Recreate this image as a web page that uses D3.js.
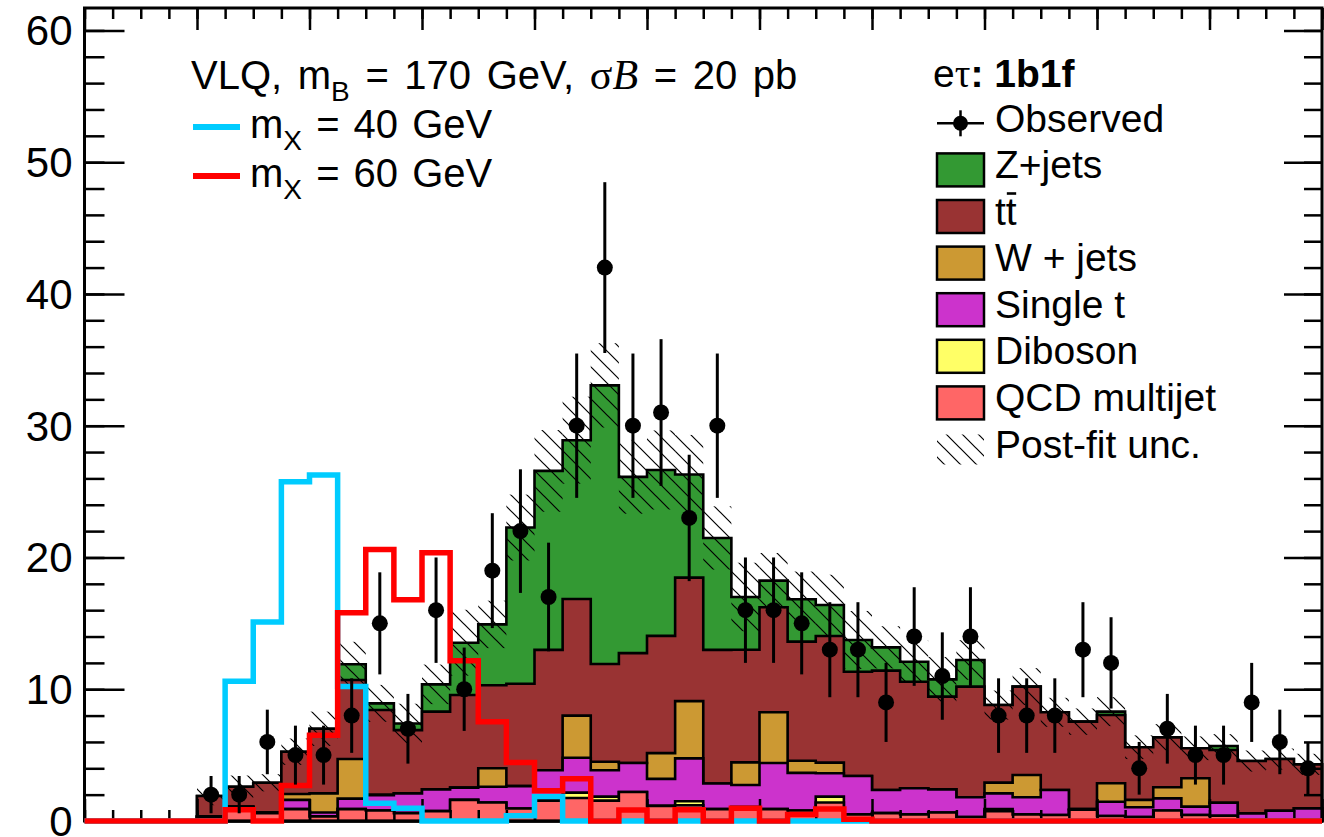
<!DOCTYPE html>
<html lang="en">
<head>
<meta charset="UTF-8">
<title>VLQ e-tau 1b1f</title>
<script src="https://d3js.org/d3.v7.min.js"></script>
<style>
  body { margin: 0; background: #fff; }
  svg text { font-family: "Liberation Sans", Arial, Helvetica, sans-serif; fill: #000; }
</style>
</head>
<body>
<svg id="main" width="1324" height="837"></svg>
<script>
// 44 bins of 5 GeV, 0..220
const observed  = [0,0,0,0, 2,2,6,5,5,8,15,7,16,10,19,22,17,30,42,30,31,23,30,16,16,15,13,13,9,14,11,14,8,8,8,13,12,4,7,5,5,9,6,4]
const qcd       = [0,0,0,0, 0.3,1.05,0.6,0.9,0.35,0.9,0.8,0.6,0.75,1.6,1.4,0.95,1.55,1.75,1.55,2.2,1.15,1.2,0.9,1.05,0.9,0.8,1.4,0.5,0.6,0.5,0.65,0.3,0.75,0.5,0.45,0.85,0.38,0.3,0.8,0.45,0.4,0.1,0.1,0.1]
const diboson   = [0,0,0,0, 0,0,0,0,0,0,0,0,0,0,0,0,0,0.4,0.3,0,0,0.3,0,0,0,0,0.45,0,0,0,0,0,0.15,0,0,0,0,0,0,0,0,0,0,0]
const singleTop = [0,0,0,0, 0.05,0.05,0.05,0.7,0.3,0.8,1.15,1.5,1.65,0.93,1.2,1.7,2.3,2.65,2.0,2.2,2.05,3.25,1.95,1.68,3.5,2.85,1.77,2.92,1.75,1.98,1.75,1.5,1.2,1.3,1.9,0.05,1.08,0.74,0.92,0.64,0.99,0.48,0.68,0.86]
const wjets     = [0,0,0,0, 0,0,0,0.45,1.45,3.0,0.05,0,0,0,1.4,0,0,3.2,0.65,0,1.95,4.35,0,1.72,3.85,0.92,0.81,0,0,0,0,0,0.81,1.69,0,0,1.4,0.56,0.84,2.15,0,0,0,0]
const ttbar     = [0,0,0,0, 1.55,1.5,2.25,3.21,4.9,6.0,6.42,4.8,5.9,7.03,6.3,7.77,9.14,8.85,7.42,8.34,8.9,9.37,10.14,8.55,7.97,9.04,9.61,7.91,9.06,8.09,7.04,8.4,5.89,6.71,5.9,6.64,5.19,4.0,3.79,2.28,4.0,3.97,3.92,3.34]
const zjets     = [0,0,0,0, 0,0,0,0,0,1.2,0.51,0.5,2.07,3.97,4.62,11.85,13.58,12.05,21.14,13.38,12.59,7.83,8.49,4.0,2.02,3.22,2.35,2.41,1.77,1.52,1.31,2.02,0,0,0,0,0.25,0,0,0,0.3,0,0,0]
const postFitUnc = [0,0,0,0, 0.7,0.85,0.65,1.0,1.3,1.7,1.4,1.5,1.5,2.5,1.8,2.5,3.1,3.3,3.2,2.8,3.0,3.0,2.4,2.6,2.1,2.1,2.3,2.2,1.6,1.6,1.7,1.5,1.1,1.4,1.1,1.0,1.1,0.9,1.0,0.9,0.9,0.8,0.8,0.8]
const sigMX40   = [0,0,0,0, 0,10.6,15.1,25.75,26.26,10.2,1.34,0.96,0,0,0,0.4,1.85,0,0,0,0,0,0,0,0,0,0,0,0,0,0,0,0,0,0,0,0,0,0,0,0,0,0,0]
const sigMX60   = [0,0,0,0, 0,0.85,0,2.7,6.5,15.8,20.6,16.8,20.35,12.16,7.53,4.44,2.3,3.2,0,0.83,0,0.86,0,0.96,0,0.5,0.92,0.14,0,0,0,0,0,0,0,0,0,0,0,0,0,0,0,0]

const bgNames  = ['QCD multijet','Diboson','Single t','W + jets','tt','Z+jets']
const bgColors = ['#ff6666','#ffff66','#cc33cc','#cc9933','#993333','#339933']
const yMajor = [0,10,20,30,40,50,60]

const binW = 5
const binLow = d3.range(0, 220, binW)
const svg = d3.select('#main')
const x = d3.scaleLinear().domain([0, 220]).range([84.5, 1322])
const y = d3.scaleLinear().domain([0, 61.7]).range([821, 8])

const defs = svg.append('defs')
const hatch = defs.append('pattern').attr('id','hatch')
    .attr('patternUnits','userSpaceOnUse').attr('width',16).attr('height',16)
hatch.append('path').attr('d','M-4,-4L20,20M-4,12L4,20M12,-4L20,4')
    .attr('stroke','#000').attr('stroke-width',1.2)

function histPath(vals, close) {
    const p = d3.path()
    p.moveTo(x(0), y(0))
    vals.forEach((v, i) => {
        p.lineTo(x(binLow[i]), y(v))
        p.lineTo(x(binLow[i] + binW), y(v))
    })
    p.lineTo(x(220), y(0))
    if (close) p.closePath()
    return p.toString()
}

// stacked backgrounds
const layers = [qcd, diboson, singleTop, wjets, ttbar, zjets]
let run = binLow.map(() => 0)
const cum = layers.map(l => (run = run.map((v, i) => v + l[i])))
const total = cum[cum.length - 1]

const gStack = svg.append('g')
for (let k = cum.length - 1; k >= 0; k--) {
    gStack.append('path').attr('d', histPath(cum[k], true))
        .attr('fill', bgColors[k]).attr('stroke', '#000').attr('stroke-width', 2.6)
        .attr('stroke-linejoin', 'miter')
}

// post-fit band
svg.append('g').selectAll('rect')
    .data(binLow.map((b, i) => ({b, t: total[i], u: postFitUnc[i]})).filter(d => d.u > 0))
    .join('rect')
    .attr('x', d => x(d.b)).attr('width', x(binW) - x(0))
    .attr('y', d => y(d.t + d.u)).attr('height', d => y(Math.max(d.t - d.u, 0)) - y(d.t + d.u))
    .attr('fill', 'url(#hatch)')

// axes ticks
function ticks(axis, vals, size) {
    return axis.tickValues(vals).tickSize(-size).tickFormat('')
}
const xMinor = d3.range(0, 221, 5), xMaj = d3.range(0, 221, 20)
const yMinor = d3.range(0, 61, 2)
const axG = svg.append('g')
axG.append('g').attr('transform','translate(0,8)').call(ticks(d3.axisTop(x), xMinor, 11))
axG.append('g').attr('transform','translate(0,8)').call(ticks(d3.axisTop(x), xMaj, 22))
axG.append('g').attr('transform','translate(0,821)').call(ticks(d3.axisBottom(x), xMinor, 11))
axG.append('g').attr('transform','translate(0,821)').call(ticks(d3.axisBottom(x), xMaj, 22))
axG.append('g').attr('transform','translate(1322,0)').call(ticks(d3.axisRight(y), yMinor, 18))
axG.append('g').attr('transform','translate(1322,0)').call(ticks(d3.axisRight(y), yMajor, 38))
axG.append('g').attr('transform','translate(84.5,0)').call(ticks(d3.axisLeft(y), yMinor, 20))
axG.append('g').attr('transform','translate(84.5,0)')
    .call(d3.axisLeft(y).tickValues(yMajor).tickSize(-40).tickPadding(12))
axG.selectAll('.domain').remove()
axG.selectAll('.tick line').attr('stroke','#000').attr('stroke-width',2.5)
axG.selectAll('.tick text').attr('font-size', 42).attr('dy', 14.5)
    .attr('font-family','"Liberation Sans", Arial, sans-serif')

svg.append('rect').attr('x',84.5).attr('y',8).attr('width',1322-84.5).attr('height',813)
    .attr('fill','none').attr('stroke','#000').attr('stroke-width',3)

// signals
svg.append('path').attr('d', histPath(sigMX40, false))
    .attr('fill','none').attr('stroke','#00ccff').attr('stroke-width',5.5)
svg.append('path').attr('d', histPath(sigMX60, false))
    .attr('fill','none').attr('stroke','#ff0000').attr('stroke-width',5.5)

// observed
const obs = binLow.map((b, i) => ({xc: b + binW / 2, n: observed[i]})).filter(d => d.n > 0)
const gObs = svg.append('g')
gObs.selectAll('line').data(obs).join('line')
    .attr('x1', d => x(d.xc)).attr('x2', d => x(d.xc))
    .attr('y1', d => y(d.n - Math.sqrt(d.n))).attr('y2', d => y(d.n + Math.sqrt(d.n)))
    .attr('stroke','#000').attr('stroke-width',3)
gObs.selectAll('circle').data(obs).join('circle')
    .attr('cx', d => x(d.xc)).attr('cy', d => y(d.n)).attr('r', 8).attr('fill','#000')

// left legend
const t1 = svg.append('text').attr('x',191).attr('y',89).attr('font-size',40).attr('word-spacing',4.5)
t1.append('tspan').text('VLQ, m')
t1.append('tspan').attr('font-size',28).attr('dy',12).text('B')
t1.append('tspan').attr('dy',-12).text(' = 170 GeV, ')
t1.append('tspan').attr('font-family','"Liberation Serif", serif').attr('font-size',42).text('σ')
t1.append('tspan').attr('font-family','"Liberation Serif", serif').attr('font-size',42).attr('font-style','italic').text('B')
t1.append('tspan').text(' = 20 pb')

const sigLeg = [{c:'#00ccff', m:'40', yy:127}, {c:'#ff0000', m:'60', yy:176}]
sigLeg.forEach(s => {
    svg.append('line').attr('x1',193).attr('x2',240).attr('y1',s.yy).attr('y2',s.yy)
        .attr('stroke',s.c).attr('stroke-width',6)
    const t = svg.append('text').attr('x',250).attr('y',s.yy + 11).attr('font-size',40).attr('word-spacing',3)
    t.append('tspan').text('m')
    t.append('tspan').attr('font-size',28).attr('dy',12).text('X')
    t.append('tspan').attr('dy',-12).text(' = ' + s.m + ' GeV')
})

// right legend
const hdr = svg.append('text').attr('x',933).attr('y',87).attr('font-size',39)
hdr.append('tspan').text('e')
hdr.append('tspan').attr('font-family','"Liberation Serif", serif').text('τ')
hdr.append('tspan').attr('font-weight','bold').text(': 1b1f')

const lx = 937, lw = 47, tx = 995, row0 = 123.3, dRow = 46.6
// observed entry
svg.append('line').attr('x1',lx).attr('x2',lx+lw).attr('y1',row0).attr('y2',row0)
    .attr('stroke','#000').attr('stroke-width',2.5)
svg.append('line').attr('x1',lx+lw/2).attr('x2',lx+lw/2).attr('y1',row0-13).attr('y2',row0+13)
    .attr('stroke','#000').attr('stroke-width',2.5)
svg.append('circle').attr('cx',lx+lw/2).attr('cy',row0).attr('r',7.5).attr('fill','#000')
svg.append('text').attr('x',tx).attr('y',row0+8.4).attr('font-size',39).text('Observed')

const order = [5,4,3,2,1,0]
order.forEach((k, j) => {
    const cy = row0 + dRow * (j + 1)
    svg.append('rect').attr('x',lx).attr('y',cy-16.5).attr('width',lw).attr('height',33)
        .attr('fill',bgColors[k]).attr('stroke','#000').attr('stroke-width',2.5)
    const t = svg.append('text').attr('x',tx).attr('y',cy+8).attr('font-size',39).text(bgNames[k])
    if (bgNames[k] === 'tt') {
        const node = t.node()
        const sx = node.getStartPositionOfChar(1).x, len = node.getSubStringLength(1,1)
        svg.append('line').attr('x1',sx+1).attr('x2',sx+len-0.5).attr('y1',cy-23).attr('y2',cy-23)
            .attr('stroke','#000').attr('stroke-width',2.6)
    }
})
const cyU = row0 + dRow * 7
svg.append('rect').attr('x',lx).attr('y',cyU-15).attr('width',lw).attr('height',30).attr('fill','url(#hatch)')
svg.append('text').attr('x',tx).attr('y',cyU+8).attr('font-size',39).text('Post-fit unc.')
</script>
</body>
</html>
